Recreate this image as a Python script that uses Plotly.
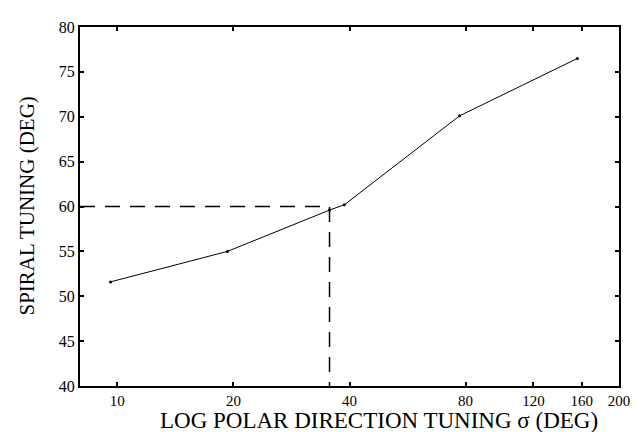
import plotly.graph_objects as go
import math

# Data
sigma = [9.6, 19.3, 35.5, 38.8, 77.2, 156]
spiral = [51.6, 55.0, 59.6, 60.2, 70.1, 76.5]
ref_sigma = 35.5
ref_spiral = 60
x_ticks = [10, 20, 40, 80, 120, 160, 200]
y_ticks = [40, 45, 50, 55, 60, 65, 70, 75, 80]
x_min, x_max = 8, 200
y_min, y_max = 40, 80

FONT = "Liberation Serif"

fig = go.Figure()
fig.add_trace(go.Scatter(
    x=[x_min, ref_sigma, ref_sigma], y=[ref_spiral, ref_spiral, y_min],
    mode="lines", line=dict(color="black", width=1.5, dash="15px,10px"),
    hoverinfo="skip", showlegend=False))
fig.add_trace(go.Scatter(
    x=sigma, y=spiral, mode="lines+markers",
    line=dict(color="black", width=1),
    marker=dict(color="black", size=3),
    showlegend=False))

fig.update_layout(
    width=633, height=424,
    margin=dict(l=72, r=14, t=11, b=46),
    paper_bgcolor="white", plot_bgcolor="white",
    font=dict(family=FONT, color="black"),
    xaxis=dict(type="log", range=[math.log10(x_min), math.log10(x_max)],
               tickvals=x_ticks, ticktext=[str(v) for v in x_ticks],
               ticks="inside", ticklen=4, tickwidth=1.5, tickcolor="black",
               showline=True, linecolor="black", linewidth=2, mirror="ticks",
               showgrid=False, zeroline=False,
               tickfont=dict(family=FONT, size=15, color="black")),
    yaxis=dict(range=[y_min, y_max], tickvals=y_ticks,
               ticks="inside", ticklen=4, tickwidth=1.5, tickcolor="black",
               showline=True, linecolor="black", linewidth=2, mirror="ticks",
               showgrid=False, zeroline=False,
               tickfont=dict(family=FONT, size=16, color="black")),
    annotations=[
        dict(text="LOG POLAR DIRECTION TUNING σ (DEG)", xref="paper", yref="paper",
             x=0.5, y=0, xanchor="center", yanchor="middle", yshift=-34, xshift=29,
             showarrow=False, font=dict(family=FONT, size=23, color="black")),
        dict(text="SPIRAL TUNING (DEG)", xref="paper", yref="paper",
             x=0, y=0.5, xanchor="center", yanchor="middle", xshift=-54, textangle=-90,
             showarrow=False, font=dict(family=FONT, size=21, color="black")),
    ],
)

fig.write_html("out.html")
